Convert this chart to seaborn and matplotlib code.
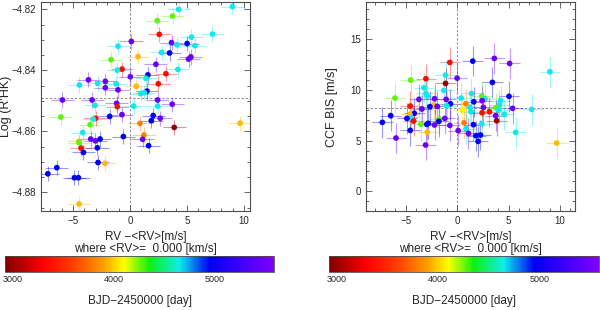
import matplotlib
matplotlib.use("Agg")
import numpy as np
import pandas as pd
import matplotlib.pyplot as plt
import seaborn as sns
from matplotlib.colors import LinearSegmentedColormap, Normalize
from matplotlib.cm import ScalarMappable
from matplotlib.ticker import MultipleLocator

# --- data ---------------------------------------------------------------
# left panel: RV - <RV> [m/s], log R'HK, date (BJD-2450000)
rv_l = [8.98, 4.26, 3.73, 2.39, 2.57, 7.23, 5.39, -1.05, 0.12, 3.64,
        5.01, 4.11, 5.69, 2.77, 3.47, 0.70, -1.66, 5.34, 5.13, 2.27,
        -0.70, -1.11, 4.20, 3.15, 1.57, 1.40, 0.03, -3.64, -2.16, -2.83,
        -4.43, -1.22, 2.48, -2.16, 0.55, -1.05, 1.49, 1.25, 0.93, -5.92,
        -3.32, 2.42, -1.17, -3.06, 0.32, 2.42, 3.70, -1.11, -6.06, -1.78,
        -0.70, -3.00, -3.21, 2.04, 1.87, 2.65, -3.50, 0.87, 3.88, 9.65,
        -4.14, -0.58, -3.44, -3.03, -2.62, -4.49, -4.46, 1.22, 1.11, -2.86,
        -4.29, -4.08, 1.63, -2.80, -2.19, -6.41, -7.20, -4.87, -4.52, -4.46]
rhk = [-4.8191, -4.8200, -4.8222, -4.8237, -4.8282, -4.8281, -4.8291, -4.8321, -4.8305, -4.8309,
       -4.8312, -4.8316, -4.8319, -4.8341, -4.8343, -4.8355, -4.8365, -4.8356, -4.8363, -4.8380,
       -4.8396, -4.8399, -4.8397, -4.8411, -4.8415, -4.8426, -4.8421, -4.8431, -4.8436, -4.8443,
       -4.8448, -4.8444, -4.8444, -4.8457, -4.8452, -4.8464, -4.8468, -4.8473, -4.8476, -4.8497,
       -4.8497, -4.8497, -4.8508, -4.8515, -4.8517, -4.8517, -4.8511, -4.8519, -4.8553, -4.8551,
       -4.8545, -4.8557, -4.8560, -4.8548, -4.8565, -4.8557, -4.8578, -4.8574, -4.8587, -4.8573,
       -4.8604, -4.8617, -4.8625, -4.8631, -4.8625, -4.8633, -4.8637, -4.8612, -4.8626, -4.8654,
       -4.8655, -4.8669, -4.8647, -4.8702, -4.8705, -4.8719, -4.8739, -4.8752, -4.8752, -4.8838]
t_l = [4650, 4650, 4270, 4270, 3350, 4650, 4650, 4650, 5450, 5450,
       4950, 4650, 4650, 4650, 4950, 3960, 4270, 5450, 5450, 5450,
       3350, 4650, 4650, 3350, 4950, 4650, 5450, 5450, 5450, 4650,
       4650, 4650, 3350, 5450, 3960, 5450, 4950, 4650, 4650, 5450,
       5450, 5450, 5450, 4650, 4650, 4650, 5450, 3350, 4270, 4950,
       5450, 3350, 4650, 4950, 4950, 5450, 4270, 3800, 3000, 3960,
       4650, 4950, 5450, 5450, 4950, 3960, 4270, 3800, 5450, 4950,
       3350, 4950, 4950, 4950, 3960, 4950, 4950, 4950, 4950, 3960]

# right panel: RV - <RV> [m/s], CCF bisector span [m/s], date
rv_r = [-0.71, 1.52, 3.62, 5.11, 9.03, 3.43, -1.13, -1.13, -3.04, -4.53,
        0.00, -3.24, -1.29, -3.04, -2.91, 1.39, -6.05, -3.72, -2.20, -1.07,
        0.39, 1.62, 2.39, 2.72, 2.43, 5.05, 4.24, 4.11, -0.65, 0.84,
        -2.30, -4.56, -3.43, -1.94, -1.00, 0.52, 1.26, 2.56, 3.79, 5.40,
        7.25, 4.05, 2.43, 3.14, 1.33, -4.17, -4.60, -4.50, -2.65, 4.59,
        3.75, -6.47, -4.89, -7.28, -4.24, -3.53, -2.82, -2.95, -1.75, -1.78,
        -1.20, -2.20, -0.71, 0.68, 1.59, 2.39, 3.85, 0.87, -4.56, -2.91,
        0.10, 1.10, 1.84, 2.27, 5.70, 2.04, -5.95, -3.07, 9.68]
bis = [12.73, 12.86, 13.13, 12.63, 11.81, 10.76, 11.48, 10.66, 11.12, 10.99,
       11.18, 10.23, 9.97, 9.67, 9.41, 9.67, 9.21, 9.08, 9.14, 9.08,
       9.21, 8.85, 9.38, 9.14, 8.95, 9.38, 8.95, 8.52, 8.65, 8.65,
       8.52, 8.42, 8.13, 8.39, 8.42, 8.03, 8.29, 8.29, 8.26, 8.19,
       8.09, 8.03, 7.76, 7.86, 7.86, 7.70, 7.60, 7.30, 8.36, 7.60,
       7.47, 7.47, 7.20, 6.81, 6.94, 6.61, 6.71, 6.61, 7.14, 6.91,
       7.20, 6.55, 6.51, 6.78, 6.58, 6.68, 6.97, 6.18, 6.02, 5.86,
       5.99, 5.72, 5.49, 5.56, 5.82, 4.93, 5.26, 4.57, 4.77]
t_r = [3350, 4950, 5450, 5450, 4650, 4950, 4650, 3000, 3350, 4270,
       5450, 4650, 4650, 4650, 4650, 4650, 4270, 5450, 5450, 5450,
       4650, 4950, 4270, 4650, 5450, 4950, 4650, 4650, 4950, 3800,
       3960, 3350, 5450, 5450, 4650, 4080, 4650, 5450, 4270, 5450,
       4650, 4650, 3350, 3350, 4650, 4950, 3960, 4650, 4950, 4650,
       5450, 4950, 4950, 4950, 3350, 4270, 4950, 4950, 4270, 4950,
       5450, 5450, 5450, 3800, 4950, 4650, 3000, 4650, 4950, 3960,
       5450, 5450, 4950, 4950, 4650, 4950, 5450, 5450, 3960]

rv_err = 1.0
rhk_err = 0.0025
bis_err = 1.5
rhk_mean = -4.8492
bis_mean = 8.18

t_min, t_max = 2920, 5585
cbar_ticks = [3000, 4000, 5000]

cmap = LinearSegmentedColormap.from_list("bjd", [
    (0.00, "#7f0000"), (0.14, "#ff0000"), (0.255, "#ff4000"),
    (0.368, "#ffa000"), (0.443, "#ffff00"), (0.537, "#10f010"),
    (0.649, "#10ecec"), (0.762, "#0000f0"), (1.00, "#8000ff")])
norm = Normalize(t_min, t_max)

sns.set_style("ticks")
plt.rcParams['font.family'] = ['Liberation Sans', 'DejaVu Sans']
plt.rcParams['axes.edgecolor'] = '0.3'


def draw_panel(ax, x, y, t, yerr, ymean):
    df = pd.DataFrame({'rv': x, 'val': y, 'bjd': t})
    cols = cmap(norm(df['bjd'].values))
    ax.hlines(df['val'], df['rv'] - rv_err, df['rv'] + rv_err,
              colors=cols, alpha=0.4, lw=0.8, zorder=1)
    ax.vlines(df['rv'], df['val'] - yerr, df['val'] + yerr,
              colors=cols, alpha=0.4, lw=0.8, zorder=1)
    sns.scatterplot(data=df, x='rv', y='val', hue='bjd', palette=cmap,
                    hue_norm=norm, s=17, linewidth=0, legend=False,
                    ax=ax, zorder=3)
    ax.axvline(0, ls=(0, (3, 2)), color='0.5', lw=0.6, zorder=0)
    ax.axhline(ymean, ls=(0, (3, 2)), color='0.5', lw=0.6, zorder=0)
    ax.set_xlabel('')
    ax.set_ylabel('')
    ax.xaxis.set_minor_locator(MultipleLocator(1))
    ax.tick_params(which='both', direction='in', top=True, right=True,
                   width=0.6, color='0.3', labelsize=7)
    ax.tick_params(which='major', length=4)
    ax.tick_params(which='minor', length=2)
    for s in ax.spines.values():
        s.set_linewidth(0.8)


fig = plt.figure(figsize=(6, 3.1), dpi=100)
ax1 = fig.add_axes([0.0683, 0.3194, 0.348, 0.674])
ax2 = fig.add_axes([0.6095, 0.3194, 0.3493, 0.674])

draw_panel(ax1, rv_l, rhk, t_l, rhk_err, rhk_mean)
ax1.set_xlim(-7.8, 10.5)
ax1.set_ylim(-4.8861, -4.8176)
ax1.set_xticks([-5, 0, 5, 10])
ax1.set_yticks([-4.88, -4.86, -4.84, -4.82])
ax1.yaxis.set_minor_locator(MultipleLocator(0.005))

draw_panel(ax2, rv_r, bis, t_r, bis_err, bis_mean)
ax2.set_xlim(-8.9, 11.5)
ax2.set_ylim(-1.95, 18.7)
ax2.set_xticks([-5, 0, 5, 10])
ax2.set_yticks([0, 5, 10, 15])
ax2.yaxis.set_minor_locator(MultipleLocator(1))

fig.text(0.010, 0.656, "Log (R'HK)", rotation=90, ha='center', va='center', fontsize=9)
fig.text(0.553, 0.656, "CCF BIS [m/s]", rotation=90, ha='center', va='center', fontsize=9)

for xc in (0.2425, 0.784):
    fig.text(xc, 0.2366, "RV \u2212<RV>[m/s]", ha='center', va='center', fontsize=8.5)
    fig.text(xc, 0.1968, "where <RV>=  0.000 [km/s]", ha='center', va='center', fontsize=8.5)

# colour bars for the observation date
sm = ScalarMappable(norm=norm, cmap=cmap)
for rect, xc in (([0.0083, 0.1235, 0.448, 0.0506], 0.2325),
                 ([0.548, 0.1235, 0.45, 0.0506], 0.773)):
    cax = fig.add_axes(rect)
    cb = fig.colorbar(sm, cax=cax, orientation='horizontal')
    cb.set_ticks(cbar_ticks)
    cb.ax.xaxis.set_minor_locator(MultipleLocator(200))
    cb.ax.tick_params(which='both', direction='in', length=11.3, width=0.5,
                      color='0.15', labelsize=6.5, pad=2.5)
    cb.outline.set_linewidth(0.6)
    fig.text(xc, 0.029, "BJD\u22122450000 [day]", ha='center', va='center', fontsize=8.5)

fig.savefig("out.png", dpi=100)
